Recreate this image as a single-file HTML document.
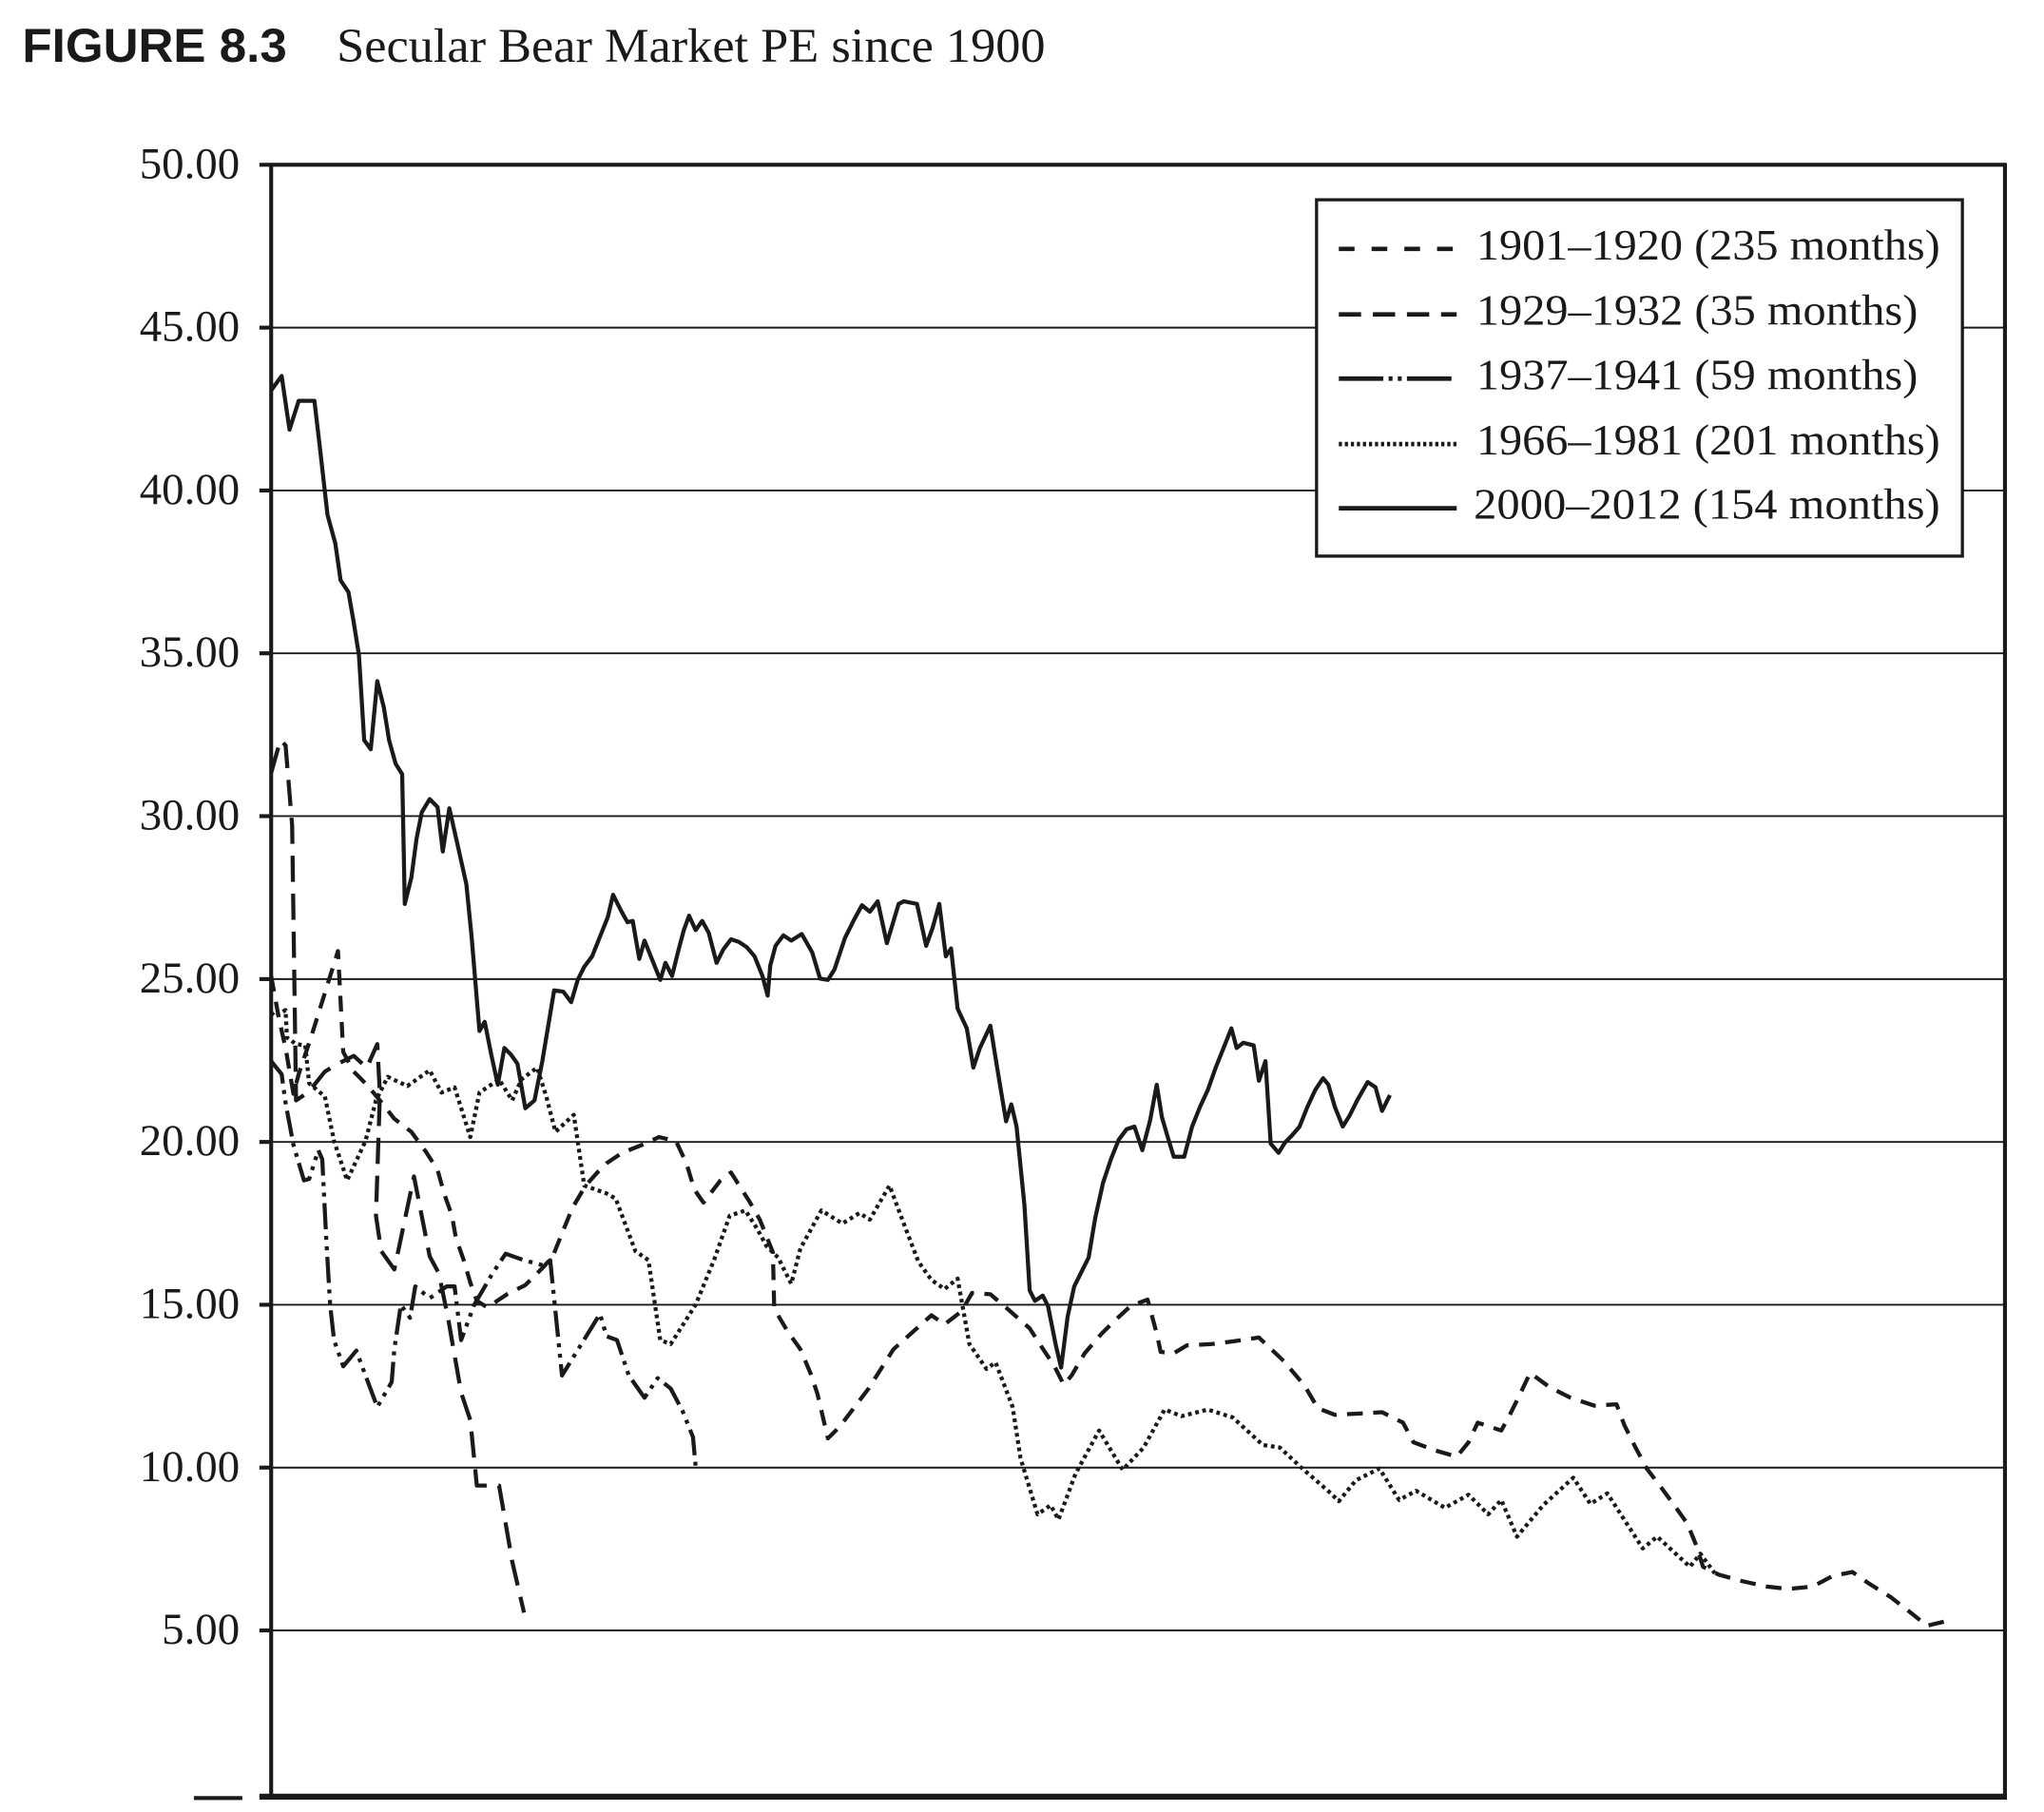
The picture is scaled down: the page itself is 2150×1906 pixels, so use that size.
<!DOCTYPE html>
<html><head><meta charset="utf-8"><style>
html,body{margin:0;padding:0;background:#fff;}
svg{display:block;}
</style></head><body>
<svg xmlns="http://www.w3.org/2000/svg" width="2150" height="1906" viewBox="0 0 1560.3 1383.2" preserveAspectRatio="none">
<rect width="1560.3" height="1383.2" fill="#fff"/>
<text x="17" y="47" font-family="Liberation Sans, sans-serif" font-weight="bold" font-size="36" textLength="202" lengthAdjust="spacingAndGlyphs" fill="#1a1a1a">FIGURE 8.3</text>
<text x="257" y="47" font-family="Liberation Serif, serif" font-size="37" textLength="541" lengthAdjust="spacingAndGlyphs" fill="#1a1a1a">Secular Bear Market PE since 1900</text>

<g stroke="#1a1a1a" stroke-width="1.4">
<line x1="207" y1="250.1" x2="1530.5" y2="250.1"/>
<line x1="207" y1="374.4" x2="1530.5" y2="374.4"/>
<line x1="207" y1="498.7" x2="1530.5" y2="498.7"/>
<line x1="207" y1="623" x2="1530.5" y2="623"/>
<line x1="207" y1="747.4" x2="1530.5" y2="747.4"/>
<line x1="207" y1="871.7" x2="1530.5" y2="871.7"/>
<line x1="207" y1="996" x2="1530.5" y2="996"/>
<line x1="207" y1="1120.3" x2="1530.5" y2="1120.3"/>
<line x1="207" y1="1244.6" x2="1530.5" y2="1244.6"/>
</g>
<g stroke="#1a1a1a" stroke-width="3">
<line x1="198" y1="125.8" x2="1531.5" y2="125.8"/>
<line x1="198" y1="250.1" x2="207" y2="250.1"/>
<line x1="198" y1="374.4" x2="207" y2="374.4"/>
<line x1="198" y1="498.7" x2="207" y2="498.7"/>
<line x1="198" y1="623" x2="207" y2="623"/>
<line x1="198" y1="747.4" x2="207" y2="747.4"/>
<line x1="198" y1="871.7" x2="207" y2="871.7"/>
<line x1="198" y1="996" x2="207" y2="996"/>
<line x1="198" y1="1120.3" x2="207" y2="1120.3"/>
<line x1="198" y1="1244.6" x2="207" y2="1244.6"/>
<line x1="207" y1="124.5" x2="207" y2="1373"/>
<line x1="1530.5" y1="124.5" x2="1530.5" y2="1373"/>
<line x1="148" y1="1372.5" x2="185" y2="1372.5"/>
</g>
<line x1="198" y1="1371.5" x2="1532" y2="1371.5" stroke="#1a1a1a" stroke-width="4.5"/>

<g font-family="Liberation Serif, serif" font-size="34" fill="#1a1a1a" text-anchor="end">
<text x="183" y="136">50.00</text>
<text x="183" y="260.3">45.00</text>
<text x="183" y="384.6">40.00</text>
<text x="183" y="508.9">35.00</text>
<text x="183" y="633.2">30.00</text>
<text x="183" y="757.6">25.00</text>
<text x="183" y="881.9">20.00</text>
<text x="183" y="1006.2">15.00</text>
<text x="183" y="1130.5">10.00</text>
<text x="183" y="1254.8">5.00</text>
</g>

<g fill="none" stroke="#1a1a1a" stroke-width="3.1" stroke-linejoin="round">
<polyline points="207,298 215,287 221,328 228,306 240,306 244,340 250,393 256,415 260,443 266,452 270,475 274,500 278,565 283,572 288,520 293,540 297,565 302,583 307,591 309,690 314,670 318,640 322,620 328,610 334,616 338,650 343,617 350,648 356,675 360,715 366,787 370,780 375,805 380,828 385,800 390,805 395,812 401,846 408,840 414,810 423,756 430,757 436,765 441,748 446,738 452,730 458,715 464,700 468,683 474,695 479,704 483,703 488,732 492,718 498,733 504,748 508,735 513,745 518,725 522,710 526,699 531,710 536,703 541,712 547,735 552,725 558,717 564,719 570,723 576,730 582,745 586,760 588,737 592,722 598,714 604,718 612,713 620,727 626,747 632,748 637,740 645,716 652,702 658,691 664,696 670,688 677,720 686,690 690,688 700,690 707,722 712,708 717,690 722,730 726,724 731,770 738,785 743,815 748,800 756,783 762,820 768,856 772,843 776,860 782,920 786,985 790,993 796,989 800,997 806,1027 810,1044 815,1005 820,982 825,972 831,960 836,930 842,903 848,885 854,870 860,862 866,860 872,878 878,855 883,828 887,853 892,870 896,883 904,883 910,860 916,845 922,832 928,815 934,800 940,785 944,800 949,796 957,798 961,825 966,810 970,873 976,880 981,872 986,867 992,860 998,845 1004,832 1010,823 1014,828 1019,845 1025,860 1030,852 1036,840 1044,826 1050,830 1055,848 1061,836"/>
<polyline stroke-dasharray="12 8" points="207,745 213,778 218,800 224,835 228,820 238,790 248,758 258,726 262,803 270,818 280,828 290,840 301,854 314,864 325,879 334,893 339,911 345,928 348,945 354,962 359,979 364,993 372,998 387,988 401,981 415,967 422,959 430,939 437,922 447,905 456,895 463,888 475,880 490,874 503,868 516,871 524,888 530,908 537,918 550,901 558,895 572,917 580,931 590,956 591,999 601,1016 611,1030 619,1049 624,1064 632,1098 641,1089 663,1060 682,1030 711,1004 721,1011 734,1001 742,987 756,988 769,999 786,1014 795,1028 805,1043 812,1057 818,1050 828,1033 841,1018 850,1009 863,997 876,992 883,1018 886,1032 896,1033 906,1027 925,1026 941,1024 961,1021 980,1039 996,1058 1006,1075 1019,1080 1038,1079 1055,1078 1071,1086 1079,1101 1095,1107 1112,1112 1121,1101 1128,1086 1146,1092 1152,1081 1160,1065 1168,1048 1183,1059 1199,1067 1217,1073 1234,1072 1240,1088 1248,1104 1257,1121 1267,1134 1278,1149 1288,1163 1295,1180 1300,1196 1312,1202 1330,1207 1348,1211 1365,1213 1384,1211 1399,1203 1414,1200 1427,1209 1443,1219 1456,1229 1471,1241 1488,1237"/>
<polyline stroke-dasharray="20 9" points="207,590 214,565 218,569 223,630 226,840 232,836 240,828 248,818 258,812 270,806 280,815 288,797 290,835 287,928 291,955 301,969 304,955 316,898 328,959 335,972 342,1006 352,1063 359,1084 364,1134 381,1134 391,1192 400,1231"/>
<polyline stroke-dasharray="20 5 3 5 3 5" points="207,810 215,820 218,842 224,874 232,901 236,900 243,878 246,885 249,945 252,996 255,1023 262,1043 272,1031 279,1050 288,1074 299,1055 301,1030 306,996 313,1006 317,982 328,991 341,982 347,982 352,1023 362,996 376,972 386,957 400,962 415,966 420,962 429,1050 458,1003 463,1020 471,1023 480,1050 492,1067 502,1052 512,1060 521,1077 529,1097 531,1119"/>
<polyline stroke-dasharray="2.8 2.8" points="207,773 210,776 218,771 219,792 226,797 233,798 236,827 248,837 255,871 265,901 279,871 287,840 296,822 311,829 328,817 337,834 347,830 359,868 366,834 381,824 391,840 398,824 410,815 417,837 424,864 438,851 446,905 463,911 470,915 485,955 495,962 504,1023 512,1026 531,996 545,962 557,928 569,924 578,938 585,951 594,960 604,980 611,953 627,924 643,934 656,926 664,931 679,905 688,929 701,963 711,977 721,984 731,976 740,1026 753,1045 760,1040 773,1074 779,1113 792,1156 802,1149 808,1160 821,1125 839,1092 857,1122 873,1105 889,1076 902,1081 922,1076 941,1082 964,1103 977,1105 993,1120 1016,1140 1022,1146 1035,1130 1053,1121 1068,1145 1081,1138 1103,1151 1121,1141 1136,1156 1146,1145 1158,1173 1178,1149 1201,1128 1214,1148 1227,1140 1254,1182 1265,1173 1290,1196 1298,1186 1309,1201"/>
</g>

<rect x="1005" y="152.5" width="493" height="272" fill="#fff" stroke="#1a1a1a" stroke-width="2.4"/>
<g stroke="#1a1a1a" stroke-width="3.4" fill="none">
<line x1="1022" y1="190" x2="1112" y2="190" stroke-dasharray="12 13"/>
<line x1="1022" y1="240" x2="1112" y2="240" stroke-dasharray="17 9"/>
<line x1="1022" y1="289" x2="1112" y2="289" stroke-dasharray="34 4 3 4 3 4"/>
<line x1="1022" y1="339" x2="1112" y2="339" stroke-dasharray="2.4 2.2"/>
<line x1="1022" y1="388" x2="1112" y2="388"/>
</g>
<g font-family="Liberation Serif, serif" font-size="33" fill="#1a1a1a">
<text x="1127" y="198" textLength="354" lengthAdjust="spacingAndGlyphs">1901–1920 (235 months)</text>
<text x="1127" y="248" textLength="337" lengthAdjust="spacingAndGlyphs">1929–1932 (35 months)</text>
<text x="1127" y="297" textLength="337" lengthAdjust="spacingAndGlyphs">1937–1941 (59 months)</text>
<text x="1127" y="347" textLength="354" lengthAdjust="spacingAndGlyphs">1966–1981 (201 months)</text>
<text x="1125" y="396" textLength="356" lengthAdjust="spacingAndGlyphs">2000–2012 (154 months)</text>
</g>
</svg>
</body></html>
